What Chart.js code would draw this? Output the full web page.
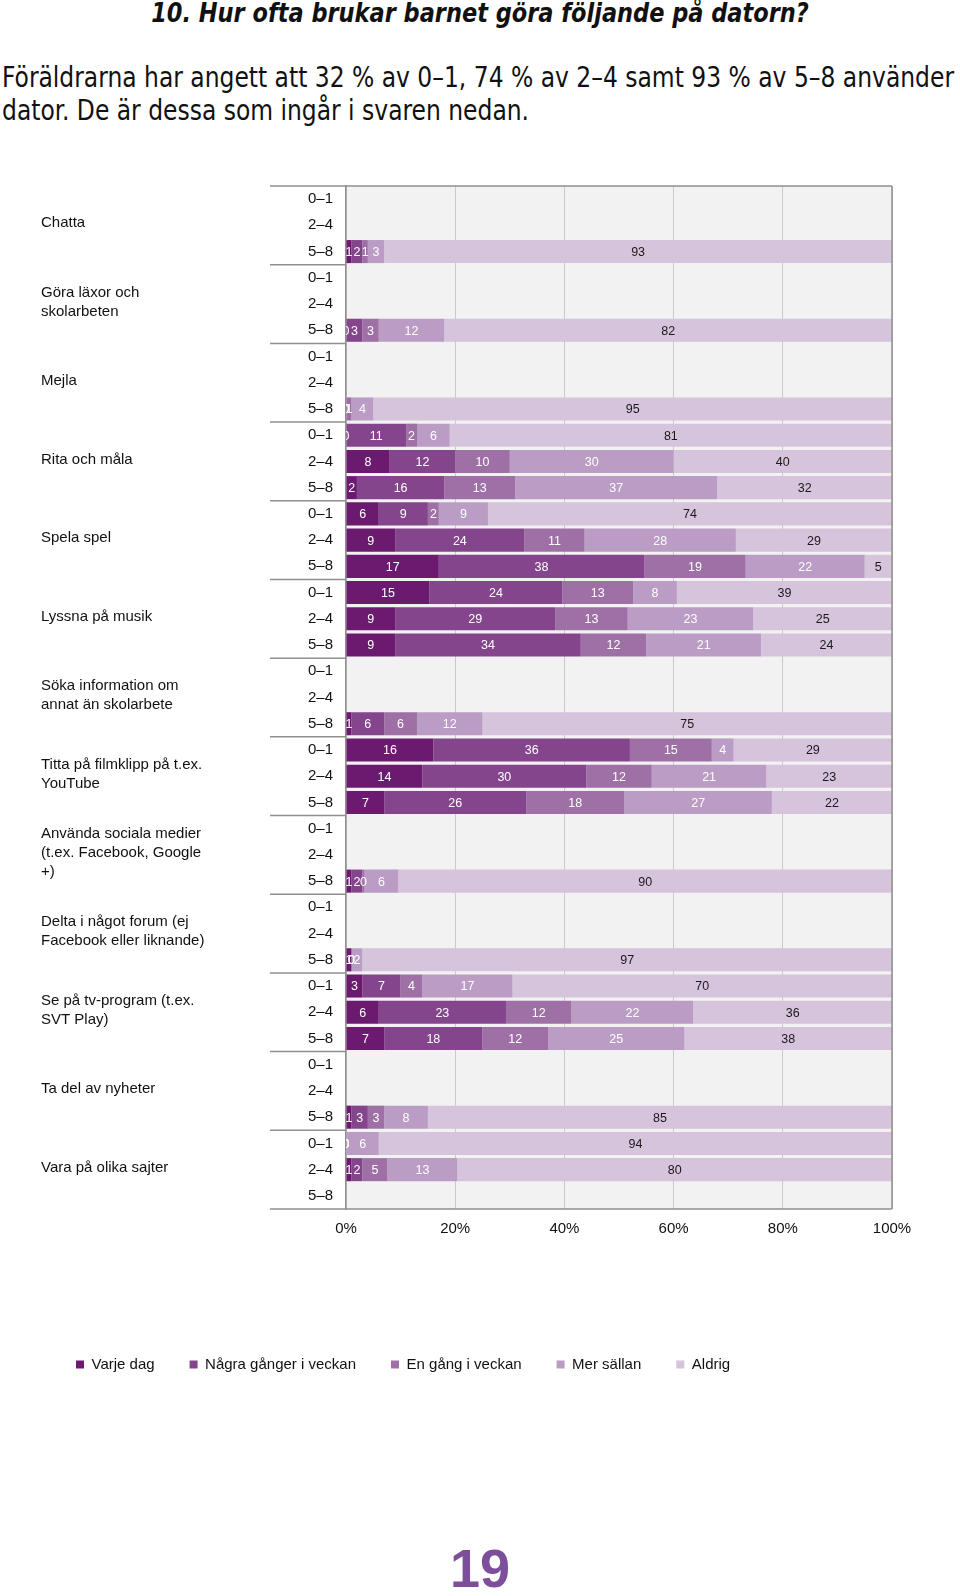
<!DOCTYPE html>
<html lang="sv">
<head>
<meta charset="utf-8">
<title>10. Hur ofta brukar barnet göra följande på datorn?</title>
<script src="https://cdn.jsdelivr.net/npm/chart.js@4.4.1/dist/chart.umd.min.js"></script>
<style>
  html, body { margin: 0; padding: 0; background: #fff; }
  body { width: 960px; height: 1596px; position: relative; overflow: hidden; font-family: "Liberation Sans", Arial, sans-serif; color: #111; }
  #title { position: absolute; top: -1px; left: 0; width: 960px; text-align: center; white-space: nowrap; font-style: italic; font-weight: bold; font-size: 27px; line-height: 28px; font-family: "Liberation Sans Narrow", "DejaVu Sans Condensed", sans-serif; font-stretch: condensed; transform: scaleX(0.925); transform-origin: 480px 0; }
  #intro { position: absolute; top: 62px; left: 2px; width: 1040px; white-space: nowrap; font-size: 28px; line-height: 32.5px; font-family: "Liberation Sans Narrow", "DejaVu Sans Condensed", sans-serif; font-stretch: condensed; transform: scaleX(0.93); transform-origin: 0 0; }
  #chartBox { position: absolute; left: 0; top: 150px; }
  #page { position: absolute; top: 1538px; left: 0; width: 960px; text-align: center; font-weight: bold; font-size: 54px; line-height: 60px; color: #7d4e9a; }
</style>
</head>
<body>
<div id="title">10. Hur ofta brukar barnet göra följande på datorn?</div>
<div id="intro">Föräldrarna har angett att 32 % av 0–1, 74 % av 2–4 samt 93 % av 5–8 använder<br>dator. De är dessa som ingår i svaren nedan.</div>
<div id="chartBox"><canvas id="chart" width="960" height="1232"></canvas></div>
<div id="page">19</div>
<script>
const ageGroups = ['0–1', '2–4', '5–8'];
const activities = [
    ['Chatta'],
    ['Göra läxor och', 'skolarbeten'],
    ['Mejla'],
    ['Rita och måla'],
    ['Spela spel'],
    ['Lyssna på musik'],
    ['Söka information om', 'annat än skolarbete'],
    ['Titta på filmklipp på t.ex.', 'YouTube'],
    ['Använda sociala medier', '(t.ex. Facebook, Google', '+)'],
    ['Delta i något forum (ej', 'Facebook eller liknande)'],
    ['Se på tv-program (t.ex.', 'SVT Play)'],
    ['Ta del av nyheter'],
    ['Vara på olika sajter']
];
const seriesNames = ['Varje dag', 'Några gånger i veckan', 'En gång i veckan', 'Mer sällan', 'Aldrig'];
const seriesColors = ['#6c1a70', '#85458d', '#9f70a5', '#bb9cc5', '#d6c3dc'];
const xTicks = [0, 20, 40, 60, 80, 100];

// one value per row: 13 activities x (0–1, 2–4, 5–8), null = no answer shown
// (decimals where the printed, rounded numbers don't add up to 100)
const varjeDag    = [null,null,1,  null,null,0,  null,null,0,  0,8,2,    6,9,17,        15.3,9,9,      null,null,1,  16,14,7,  null,null,1,   null,null,1, 3,6,7,           null,null,1,  0,1,null];
const nagraGanger = [null,null,2,  null,null,3,  null,null,0,  11,12,16, 9,23.7,37.6,   24.3,29.3,34,  null,null,6,  36,30,26, null,null,2,   null,null,0, 7,23.3,18,      null,null,3,  0,2,null];
const enGang      = [null,null,1,  null,null,3,  null,null,1,  2,10,13,  2,11,18.6,     13,13.3,12,    null,null,6,  15,12,18, null,null,0.4, null,null,0, 4,12,12,        null,null,3,  0,4.6,null];
const merSallan   = [null,null,3,  null,null,12, null,null,4,  6,30,37,  9,27.7,21.8,   8,23,21,       null,null,12, 4,21,27,  null,null,6.2, null,null,2, 16.5,22.3,25,    null,null,8,  6,12.8,null];
const aldrig      = [null,null,93, null,null,82, null,null,95, 81,40,32, 74,28.6,5,     39.4,25.4,24,  null,null,75, 29,23,22, null,null,90.4,null,null,97, 69.5,36.4,38,   null,null,85, 94,79.6,null];

const seriesData = [varjeDag, nagraGanger, enGang, merSallan, aldrig];
const rowLabels = activities.flatMap(() => ageGroups);

// grey plot background
const plotBackground = {
    id: 'plotBackground',
    beforeDraw(chart) {
        const {ctx, chartArea} = chart;
        ctx.save();
        ctx.fillStyle = '#f3f2f3';
        ctx.fillRect(chartArea.left, chartArea.top, chartArea.width, chartArea.height);
        ctx.restore();
    }
};

// numbers inside the bar segments
const barValues = {
    id: 'barValues',
    afterDatasetsDraw(chart) {
        const {ctx, chartArea} = chart;
        ctx.save();
        ctx.beginPath();
        ctx.rect(chartArea.left, chartArea.top, chartArea.width, chartArea.height);
        ctx.clip();
        ctx.font = '12.5px "Liberation Sans", Arial, sans-serif';
        ctx.textAlign = 'center';
        ctx.textBaseline = 'middle';
        chart.data.datasets.forEach((ds, i) => {
            ctx.fillStyle = i === 4 ? '#1a1a1a' : '#ffffff';
            chart.getDatasetMeta(i).data.forEach((bar, j) => {
                const v = ds.data[j];
                if (v === null) return;
                ctx.fillText(String(Math.round(v)), (bar.x + bar.base) / 2, bar.y + 1);
            });
        });
        ctx.restore();
    }
};

// activity names, group separators and frame
const groupLabels = {
    id: 'groupLabels',
    afterDraw(chart) {
        const {ctx, chartArea} = chart;
        const y = chart.scales.y;
        const n = activities.length;
        ctx.save();
        ctx.strokeStyle = '#8f8f8f';
        ctx.lineWidth = 1.5;
        for (let g = 0; g <= n; g++) {
            let yy;
            if (g === 0) yy = chartArea.top;
            else if (g === n) yy = chartArea.bottom;
            else yy = (y.getPixelForValue(g * 3 - 1) + y.getPixelForValue(g * 3)) / 2;
            ctx.beginPath();
            ctx.moveTo(270, yy);
            ctx.lineTo(g === 0 || g === n ? chartArea.right : chartArea.left, yy);
            ctx.stroke();
        }
        ctx.beginPath();
        ctx.moveTo(chartArea.right, chartArea.top);
        ctx.lineTo(chartArea.right, chartArea.bottom);
        ctx.stroke();

        ctx.fillStyle = '#111';
        ctx.font = '15px "Liberation Sans", Arial, sans-serif';
        ctx.textAlign = 'left';
        ctx.textBaseline = 'middle';
        activities.forEach((lines, g) => {
            const cy = y.getPixelForValue(g * 3 + 1) - 2;
            lines.forEach((t, k) => {
                ctx.fillText(t, 41, cy + (k - (lines.length - 1) / 2) * 18.8);
            });
        });
        ctx.restore();
    }
};

const datasets = seriesNames.map((name, i) => ({
    label: name,
    data: seriesData[i],
    backgroundColor: seriesColors[i],
    borderWidth: 0,
    barPercentage: 0.88,
    categoryPercentage: 1
}));

new Chart(document.getElementById('chart'), {
    type: 'bar',
    data: { labels: rowLabels, datasets: datasets },
    options: {
        indexAxis: 'y',
        responsive: false,
        animation: false,
        layout: { padding: { left: 41, right: 68, top: 36, bottom: 0 } },
        scales: {
            x: {
                stacked: true,
                min: 0,
                max: 100,
                afterBuildTicks: s => { s.ticks = xTicks.map(v => ({ value: v })); },
                ticks: {
                    callback: v => v + '%',
                    color: '#111',
                    padding: 11,
                    font: { size: 15, family: '"Liberation Sans", Arial, sans-serif' }
                },
                grid: { color: '#c9c9c9', drawTicks: false },
                border: { display: false },
                afterFit: s => { s.height = 113; }
            },
            y: {
                stacked: true,
                ticks: {
                    autoSkip: false,
                    color: '#111',
                    padding: 13,
                    font: { size: 15, family: '"Liberation Sans", Arial, sans-serif' }
                },
                grid: { display: false, drawTicks: false },
                border: { display: true, color: '#8f8f8f', width: 1.5 },
                afterFit: s => { s.width = 305; }
            }
        },
        plugins: {
            legend: {
                position: 'bottom',
                align: 'start',
                labels: {
                    boxWidth: 8,
                    boxHeight: 8,
                    padding: 35,
                    color: '#111',
                    font: { size: 15, family: '"Liberation Sans", Arial, sans-serif' }
                }
            },
            tooltip: { enabled: false }
        }
    },
    plugins: [plotBackground, barValues, groupLabels]
});
</script>
</body>
</html>
